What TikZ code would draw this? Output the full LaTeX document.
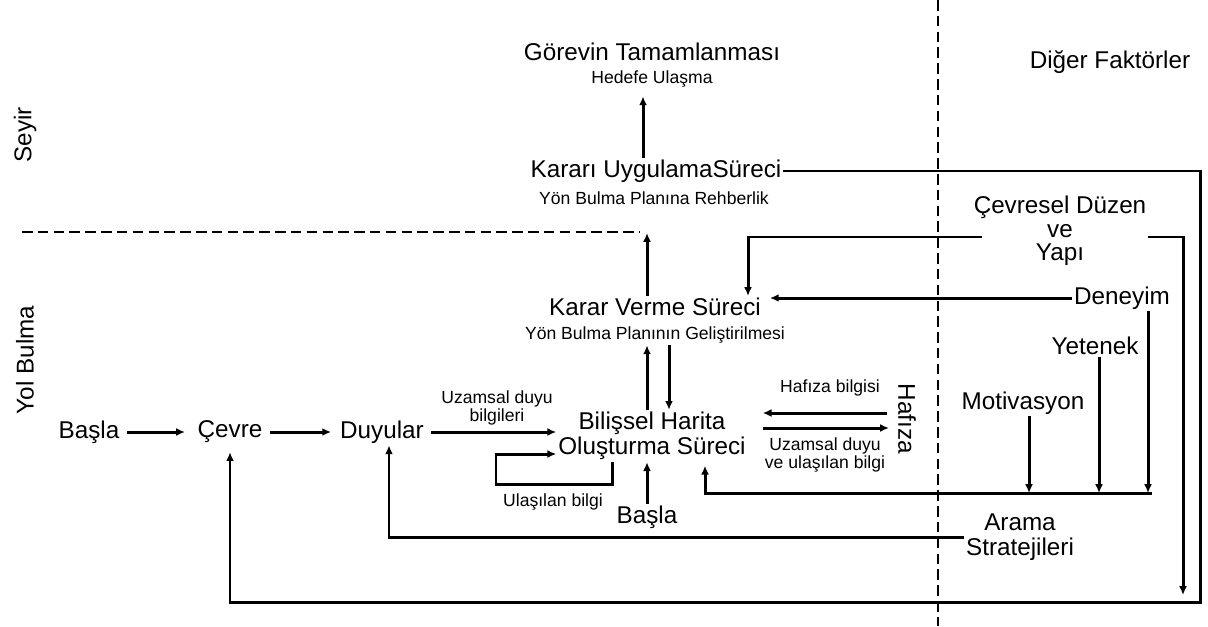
\documentclass[tikz,border=0pt]{standalone}
\usepackage{fontspec}
\setmainfont{Liberation Sans}
\usetikzlibrary{positioning,calc,arrows.meta}

\begin{document}
\begin{tikzpicture}[
    lbl/.style={font=\fontsize{13.8}{14.5}\selectfont, inner sep=1pt, align=center},
    sub/.style={font=\fontsize{10}{10.5}\selectfont, inner sep=1pt, align=center},
    arrow/.style={-{Latex[length=5pt, width=4.5pt]}, line width=1.7pt},
    divider/.style={line width=1.1pt, dash pattern=on 6pt off 3pt},
]
\useasboundingbox (0,0) rectangle (24.16,-12.52);

% Side labels
\node[lbl, rotate=90] (seyir) at (0.5, -2.7) {Seyir};
\node[lbl, rotate=90] (yolbulma) at (0.5, -7.2) {Yol Bulma};
\node[lbl] (diger) at (22.2, -1.24) {Diğer Faktörler};

% Dividers
\coordinate (kesitsol) at (0.44, -4.64);
\coordinate (kesitsag) at (12.8, -4.64);
\coordinate (kesit) at (12.94, -4.66);
\draw[divider] (kesitsol) -- (kesitsag);
\coordinate (ust) at (18.76, 0);
\coordinate (alt) at (18.76, -12.52);
\draw[divider] (ust) -- (alt);

% Seyir part
\node[lbl] (gorev) at (13.04, -1.04) {Görevin Tamamlanması};
\node[sub] (hedef) at (13.04, -1.58) {Hedefe Ulaşma};
\node[lbl] (uygula) at (13.12, -3.42) {Kararı UygulamaSüreci};
\node[sub] (rehber) at (13.08, -3.96) {Yön Bulma Planına Rehberlik};

% Yol bulma part
\node[lbl] (karar) at (13.1, -6.14) {Karar Verme Süreci};
\node[sub] (gelis) at (13.1, -6.7) {Yön Bulma Planının Geliştirilmesi};
\node[lbl] (bilissel) at (13.04, -8.72) {Bilişsel Harita\\Oluşturma Süreci};
\node[lbl] (basla2) at (12.94, -10.34) {Başla};
\node[lbl, rotate=-90] (hafiza) at (18.14, -8.38) {Hafıza};

\node[lbl] (basla1) at (1.78, -8.64) {Başla};
\node[lbl] (cevre) at (4.6, -8.64) {Çevre};
\node[lbl] (duyular) at (7.64, -8.64) {Duyular};

% Labels on arrows
\node[sub] (uzam1) at (9.94, -8.16) {Uzamsal duyu\\bilgileri};
\node[sub] (ulasilan) at (11.06, -10.04) {Ulaşılan bilgi};
\node[sub] (hafbilgi) at (16.6, -7.76) {Hafıza bilgisi};
\node[sub, font=\fontsize{10}{8.8}\selectfont] (uzam2) at (16.5, -9.1) {Uzamsal duyu\\ve ulaşılan bilgi};

% Other factors
\node[lbl, font=\fontsize{13.8}{13.4}\selectfont] (cevresel) at (21.2, -4.62) {Çevresel Düzen\\ve\\Yapı};
\node[lbl] (deneyim) at (22.44, -5.96) {Deneyim};
\node[lbl] (yetenek) at (21.9, -6.92) {Yetenek};
\node[lbl] (motiv) at (20.46, -8.06) {Motivasyon};
\node[lbl] (arama) at (20.4, -10.74) {Arama\\Stratejileri};

% Main chain
\draw[arrow, shorten <=3pt, shorten >=6pt] (basla1.east) -- (basla1.east -| cevre.west);
\draw[arrow, shorten <=3pt, shorten >=4pt] (cevre.east) -- (cevre.east -| duyular.west);
\draw[arrow, shorten <=3pt] (duyular.east) -- (duyular.east -| bilissel.west);

% Up the middle
\coordinate (u1) at ([xshift=-0.26cm]uygula.north);
\draw[arrow, shorten >=4pt] (u1) -- (u1 |- hedef.south);
\draw[arrow] (karar.north -| kesit) -- (kesit);
\draw[arrow] (bilissel.north -| basla2) -- (gelis.south -| basla2);
\coordinate (kb) at ([xshift=0.28cm]gelis.south);
\draw[arrow] (kb) -- (kb |- bilissel.north);
\draw[arrow] (basla2) -- (bilissel.south -| basla2);

% Self loop
\coordinate (loopa) at ([xshift=-0.8cm]bilissel.south);
\draw[arrow] (loopa) -- ++(0, -0.44) -- ++(-2.32, 0) |- ([yshift=-0.36cm]bilissel.west);

% Memory
\coordinate (h1) at ([yshift=0.12cm]hafiza.south);
\coordinate (h2) at ([yshift=-0.18cm]hafiza.south);
\draw[arrow, shorten <=5pt, shorten >=8.5pt] (h1) -- (h1 -| bilissel.east) coordinate (h1b);
\draw[arrow, shorten <=8.5pt, shorten >=4pt] (h2 -| h1b) -- (h2);

% Big loop to Cevre
\coordinate (sagalt) at (24.0, -12.04);
\draw[arrow, shorten >=4pt] (uygula.east) -| (sagalt) -| (cevre.south);

% Cevresel duzen
\coordinate (cvl) at ([xshift=0.2cm, yshift=-0.12cm]cevresel.west);
\coordinate (kv) at ([xshift=1.86cm]karar.north);
\draw[arrow] (cvl) -| (kv);
\coordinate (cvr) at ([yshift=-0.12cm]cevresel.east);
\coordinate (cvalt) at ([xshift=-0.34cm, yshift=0.14cm]sagalt);
\draw[arrow] (cvr) -| (cvalt);

% Deneyim, yetenek, motivasyon
\draw[arrow, shorten >=4pt] (deneyim.west) -- (deneyim.west -| karar.east);
\coordinate (birlesim) at (23.04, -9.86);
\draw[arrow, shorten >=2pt] (birlesim) -| ([xshift=1.06cm]bilissel.south);
\coordinate (den) at ([xshift=0.52cm]deneyim.south);
\draw[arrow] (den) -- (den |- birlesim);
\coordinate (yet) at ([xshift=0.08cm]yetenek.south);
\draw[arrow] (yet) -- (yet |- birlesim);
\coordinate (mot) at ([xshift=0.12cm]motiv.south);
\draw[arrow] (mot) -- (mot |- birlesim);

% Arama stratejileri
\draw[arrow] (arama.west) -| ([xshift=0.14cm]duyular.south);
\end{tikzpicture}
\end{document}
